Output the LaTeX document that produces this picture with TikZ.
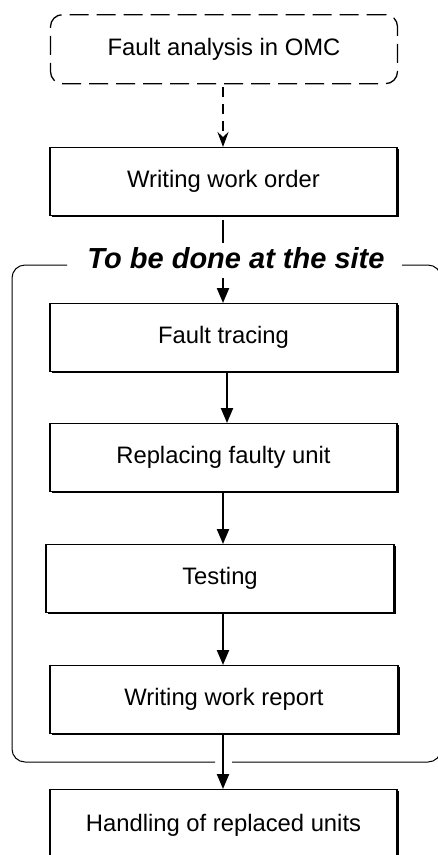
\documentclass[tikz,border=0pt]{standalone}
\usepackage{fontspec}
\setmainfont{Liberation Sans}
\usetikzlibrary{arrows.meta,shadows}
\begin{document}
\begin{tikzpicture}[x=1pt,y=-1pt,
  stepbox/.style={draw, line width=1.2pt, fill=white, minimum width=347pt,
    minimum height=68pt, anchor=north, inner sep=0pt,
    font=\fontsize{23.8}{28}\selectfont,
    drop shadow={shadow xshift=1.8pt, shadow yshift=-1.8pt, opacity=1, fill=black}},
  omcbox/.style={draw, line width=1.3pt, rounded corners=12pt,
    dash pattern=on 19pt off 8pt, minimum width=347pt, minimum height=69pt,
    anchor=north, inner sep=0pt, font=\fontsize{23.8}{28}\selectfont},
  flow/.style={line width=2.2pt, -{Triangle[length=15pt,width=12pt]}},
  frame/.style={line width=1pt, rounded corners=13pt},
  sitelabel/.style={font=\fontsize{29}{34}\selectfont\bfseries\itshape, inner sep=0pt}
]
\useasboundingbox (0,0) rectangle (438,855);
\clip (0,0) rectangle (438,855);

% outer frame around the on-site steps
\node[sitelabel] (site) at (236,258) {To be done at the site};
\draw[frame] (67,265) -| (12,762) -- (215,762);
\draw[frame] (232,762) -| (441,265) -- (402,265);

% steps
\node[omcbox]  (omc)     at (224,14)  {Fault analysis in OMC};
\node[stepbox] (order)   at (223.5,147) {Writing work order};
\node[stepbox] (tracing) at (223.5,303) {Fault tracing};
\node[stepbox] (replace) at (223.5,423) {Replacing faulty unit};
\node[stepbox, minimum width=348pt] (testing) at (220,544) {Testing};
\node[stepbox, minimum width=348pt] (report)  at (224,665) {Writing work report};
\node[stepbox, minimum height=72pt] (handling) at (223.5,789) {Handling of replaced units};

% connectors
\draw[line width=2pt, dash pattern=on 10pt off 7pt,
  -{Stealth[length=15pt,width=11pt,inset=5pt]}]
  (omc.south -| 223,0) ++(0,3) -- (order.north -| 223,0);
\coordinate (c1) at (223,243);
\coordinate (c2) at (223,278);
\draw[line width=2.2pt] ([yshift=-4pt]order.south -| c1) -- (c1);
\draw[flow] (c2) -- (tracing.north -| c2);
\draw[flow] (tracing.south -| 227,0) -- (replace.north -| 227,0);
\draw[flow] (replace.south -| 223,0) -- (testing.north -| 223,0);
\draw[flow] (testing.south -| 223,0) -- (report.north -| 223,0);
\draw[flow] (report.south -| 223,0) -- (handling.north -| 223,0);
\end{tikzpicture}
\end{document}
